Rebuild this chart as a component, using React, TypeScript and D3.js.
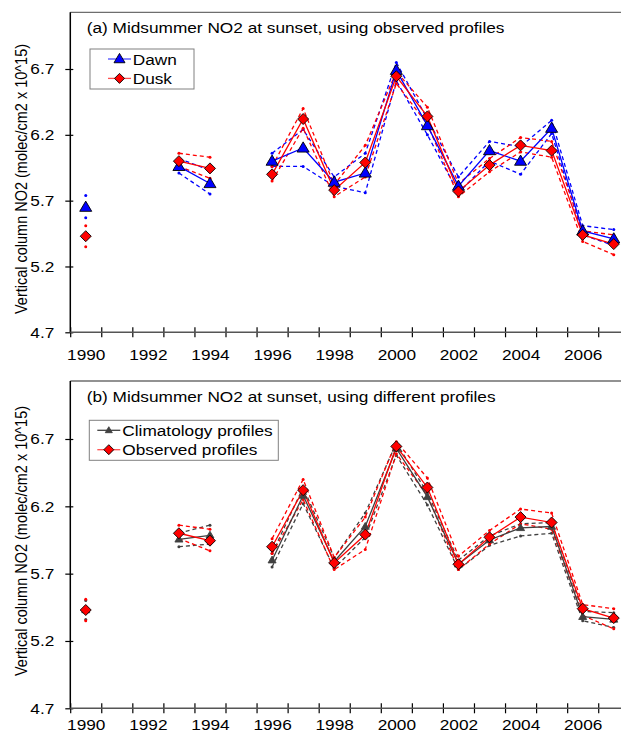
import React, { useRef, useEffect } from 'react';
import * as d3 from 'd3';

// years 1990..2007, null where there is no measurement
const years = d3.range(1990, 2008);
const yTicks = [4.7, 5.2, 5.7, 6.2, 6.7];
const xLabelYears = [1990, 1992, 1994, 1996, 1998, 2000, 2002, 2004, 2006];

const dawn = [5.65, null, null, 5.96, 5.83, null, 6.0, 6.1, 5.84, 5.91, 6.69, 6.27, 5.81, 6.08, 6.0, 6.25, 5.47, 5.41];
const dawnHi = [5.74, null, null, 6.02, 5.93, null, 6.06, 6.24, 5.88, 6.06, 6.75, 6.32, 5.88, 6.15, 6.11, 6.31, 5.51, 5.48];
const dawnLo = [5.57, null, null, 5.91, 5.75, null, 5.96, 5.96, 5.81, 5.76, 6.61, 6.2, 5.76, 6.0, 5.9, 6.21, 5.44, 5.36];

const dusk = [5.43, null, null, 6.0, 5.945, null, 5.9, 6.32, 5.78, 5.99, 6.645, 6.34, 5.77, 5.97, 6.12, 6.08, 5.44, 5.37];
const duskHi = [5.51, null, null, 6.06, 6.03, null, 5.96, 6.4, 5.82, 6.12, 6.68, 6.41, 5.83, 6.02, 6.18, 6.15, 5.47, 5.44];
const duskLo = [5.35, null, null, 5.96, 5.87, null, 5.85, 6.25, 5.73, 5.88, 6.59, 6.28, 5.73, 5.92, 6.07, 6.03, 5.39, 5.29];

const clim = [5.43, null, null, 5.955, 5.985, null, 5.8, 6.28, 5.79, 6.05, 6.63, 6.27, 5.77, 5.95, 6.04, 6.05, 5.38, 5.36];
const climHi = [5.5, null, null, 6.0, 6.06, null, 5.85, 6.34, 5.82, 6.15, 6.67, 6.3, 5.8, 5.98, 6.07, 6.08, 5.42, 5.41];
const climLo = [5.36, null, null, 5.9, 5.92, null, 5.75, 6.22, 5.74, 5.97, 6.58, 6.21, 5.73, 5.91, 5.98, 6.0, 5.35, 5.3];

const FONT = 'Arial, "Liberation Sans", sans-serif';
const SX = 1.15; // the picture's text is a bit wider than plain Arial

const panels = [
  {
    title: '(a)  Midsummer NO2 at sunset, using observed profiles',
    top: 12.3, y0: 332.3, y1: 69, labelY: 17.5, yTitle: 179,
    legend: { x: 90, y: 49, w: 104, h: 40, lineX: 108, textX: 132.7 },
    series: [
      { name: 'Dawn', values: dawn, hi: dawnHi, lo: dawnLo, color: '#0000ff', legendColor: '#4d4dff', marker: 'tri', fill: '#0000ff', stroke: '#000', size: 12 },
      { name: 'Dusk', values: dusk, hi: duskHi, lo: duskLo, color: '#ff0000', legendColor: '#ff5050', marker: 'dia', fill: '#ff0000', stroke: '#000', size: 11 },
    ],
  },
  {
    title: '(b)  Midsummer NO2 at sunset, using different profiles',
    top: 381, y0: 708.3, y1: 439, labelY: 11.5, yTitle: 541,
    legend: { x: 89.3, y: 420.3, w: 189, h: 40, lineX: 97.3, textX: 122.3 },
    series: [
      { name: 'Climatology profiles', values: clim, hi: climHi, lo: climLo, color: '#404040', legendColor: '#404040', marker: 'tri', fill: '#404040', stroke: '#404040', size: 8 },
      { name: 'Observed profiles', values: dusk, hi: duskHi, lo: duskLo, color: '#ff0000', legendColor: '#ff5050', marker: 'dia', fill: '#ff0000', stroke: '#000', size: 11 },
    ],
  },
];

const markerPath = (type, s) => {
  if (type === 'tri') {
    const h = s * 0.85;
    return `M0,${-h * 0.6}L${s / 2},${h * 0.4}L${-s / 2},${h * 0.4}Z`;
  }
  const r = s / 2;
  return `M0,${-r}L${r},0L0,${r}L${-r},0Z`;
};

const App = () => {
  const svgRef = useRef(null);

  useEffect(() => {
    const svg = d3.select(svgRef.current);
    svg.selectAll('*').remove();

    const x = d3.scaleLinear().domain([1989.5, 2007.5]).range([70.2, 70.2 + 18 * 31.06]);

    panels.forEach((p) => {
      const y = d3.scaleLinear().domain([4.7, 6.7]).range([p.y0, p.y1]);
      const g = svg.append('g');

      // frame top line
      g.append('line')
        .attr('x1', 70.3).attr('x2', 621)
        .attr('y1', p.top).attr('y2', p.top)
        .attr('stroke', '#6e6e6e').attr('stroke-width', 1.3);

      // y axis
      const yAxis = g.append('g')
        .attr('transform', `translate(70.3,0)`)
        .call(d3.axisLeft(y).tickValues(yTicks).tickFormat(d3.format('.1f')).tickSizeOuter(0));
      yAxis.select('.domain').remove();
      yAxis.append('line').attr('x1', 0).attr('x2', 0).attr('y1', p.top).attr('y2', p.y0)
        .attr('stroke', '#000').attr('stroke-width', 1.5);
      yAxis.selectAll('.tick line').attr('x1', -5).attr('x2', 3).attr('stroke', '#000').attr('stroke-width', 1.2);
      yAxis.selectAll('.tick text').attr('x', -16 / SX).attr('transform', `scale(${SX},1)`)
        .attr('font-size', 15).attr('font-family', FONT).attr('fill', '#000');

      // x axis
      const xAxis = g.append('g')
        .attr('transform', `translate(0,${p.y0})`)
        .call(d3.axisBottom(x).tickValues(d3.range(1989.5, 2007.6, 1)).tickFormat('').tickSizeOuter(0));
      xAxis.select('.domain').remove();
      xAxis.append('line').attr('x1', 70.3).attr('x2', 621).attr('y1', 0).attr('y2', 0)
        .attr('stroke', '#555').attr('stroke-width', 1.5);
      xAxis.selectAll('.tick line').attr('y1', -5).attr('y2', 5).attr('stroke', '#000').attr('stroke-width', 1.2);

      const xLab = g.append('g')
        .attr('transform', `translate(0,${p.y0})`)
        .call(d3.axisBottom(x).tickValues(xLabelYears).tickFormat(d3.format('d')).tickSize(0));
      xLab.select('.domain').remove();
      xLab.selectAll('.tick text').attr('y', p.labelY).attr('transform', `scale(${SX},1)`)
        .attr('font-size', 15).attr('font-family', FONT).attr('fill', '#000');

      // y axis title
      g.append('text')
        .attr('transform', `translate(27,${p.yTitle}) rotate(-90) scale(1,${SX})`)
        .attr('text-anchor', 'middle')
        .attr('font-size', 14.5).attr('font-family', FONT)
        .text('Vertical column NO2 (molec/cm2 x 10^15)');

      // title
      g.append('text')
        .attr('transform', `translate(86.7,${p.top + 21}) scale(${SX},1)`)
        .attr('font-size', 15).attr('font-family', FONT)
        .text(p.title);

      const pts = (vals) => years.map((yr, i) => ({ yr, v: vals[i] }));
      const line = d3.line()
        .defined((d) => d.v != null)
        .x((d) => x(d.yr))
        .y((d) => y(d.v));

      // bands
      p.series.forEach((s) => {
        [s.hi, s.lo].forEach((b) => {
          const data = pts(b);
          g.append('path').datum(data)
            .attr('fill', 'none').attr('stroke', s.color).attr('stroke-width', 1.3)
            .attr('stroke-dasharray', '4,3').attr('d', line);
          g.selectAll(null).data(data.filter((d) => d.v != null)).enter().append('circle')
            .attr('cx', (d) => x(d.yr)).attr('cy', (d) => y(d.v)).attr('r', 1.5)
            .attr('fill', s.color);
        });
      });

      // main lines
      p.series.forEach((s) => {
        g.append('path').datum(pts(s.values))
          .attr('fill', 'none').attr('stroke', s.color).attr('stroke-width', 1.3).attr('d', line);
      });

      // markers
      p.series.forEach((s) => {
        g.selectAll(null).data(pts(s.values).filter((d) => d.v != null)).enter().append('path')
          .attr('transform', (d) => `translate(${x(d.yr)},${y(d.v)})`)
          .attr('d', markerPath(s.marker, s.size))
          .attr('fill', s.fill).attr('stroke', s.stroke)
          .attr('stroke-width', 0.9);
      });

      // legend
      const L = p.legend;
      const lg = g.append('g');
      lg.append('rect').attr('x', L.x).attr('y', L.y).attr('width', L.w).attr('height', L.h)
        .attr('fill', '#fff').attr('stroke', '#808080').attr('stroke-width', 1);
      p.series.forEach((s, i) => {
        const cy = L.y + 10 + i * 19.4;
        lg.append('line').attr('x1', L.lineX).attr('x2', L.lineX + 23).attr('y1', cy).attr('y2', cy)
          .attr('stroke', s.legendColor).attr('stroke-width', 1.3);
        lg.append('path').attr('transform', `translate(${L.lineX + 11.5},${cy})`)
          .attr('d', markerPath(s.marker, s.size - 1))
          .attr('fill', s.fill).attr('stroke', s.stroke).attr('stroke-width', 0.9);
        lg.append('text').attr('transform', `translate(${L.textX},${cy + 5.5}) scale(${SX},1)`)
          .attr('font-size', 15).attr('font-family', FONT).text(s.name);
      });
    });
  }, []);

  return (
    <svg ref={svgRef} width={621} height={737}
      style={{ position: 'absolute', left: 0, top: 0, background: '#fff' }} />
  );
};

export default App;
